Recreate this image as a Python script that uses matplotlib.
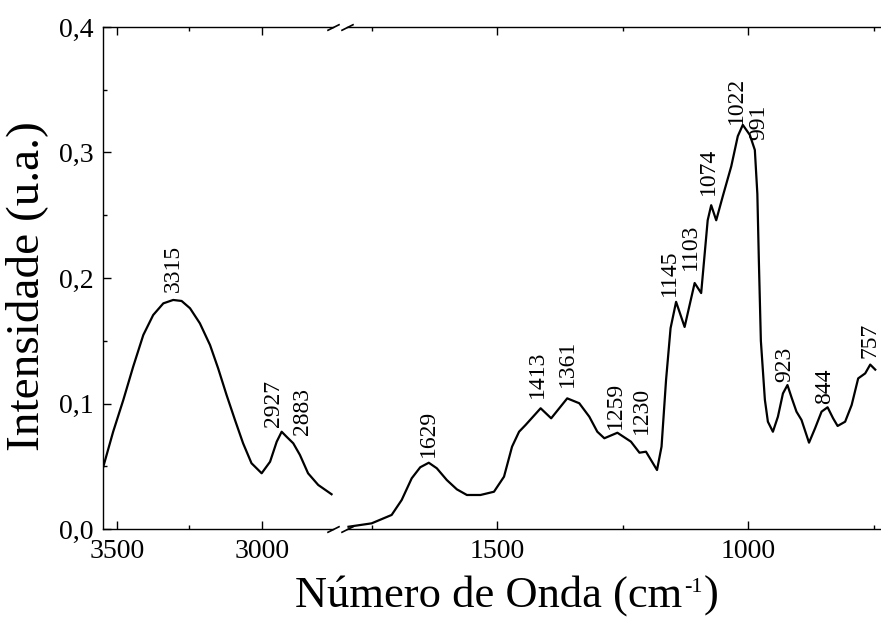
import numpy as np
import matplotlib
matplotlib.use("Agg")
from matplotlib import pyplot as plt
from matplotlib.ticker import MultipleLocator, FuncFormatter

plt.rcParams['font.family'] = 'Liberation Serif'

# high wavenumber part (cm-1, intensity)
wn_high = [3547, 3513, 3478, 3444, 3409, 3375, 3340, 3306, 3277, 3248, 3214, 3179,
           3151, 3122, 3093, 3065, 3036, 3001, 2972, 2949, 2932, 2915, 2892, 2869,
           2841, 2806, 2760]
int_high = [0.0496, 0.0775, 0.1028, 0.1293, 0.1546, 0.1705, 0.1798, 0.1825, 0.1817, 0.1759,
            0.1639, 0.1466, 0.1280, 0.1068, 0.0869, 0.0683, 0.0524, 0.0444, 0.0536, 0.0696,
            0.0775, 0.0735, 0.0683, 0.0590, 0.0444, 0.0351, 0.0277]

# fingerprint part
wn_low = [1797, 1751, 1711, 1691, 1671, 1654, 1637, 1621, 1601, 1581, 1561, 1534,
          1507, 1487, 1471, 1457, 1444, 1414, 1393, 1361, 1337, 1317, 1301, 1287,
          1261, 1234, 1217, 1204, 1182, 1173, 1164, 1155, 1144, 1127, 1107, 1094,
          1081, 1074, 1064, 1051, 1034, 1021, 1011, 997, 987, 982, 979, 975,
          967, 961, 951, 941, 931, 922, 914, 904, 894, 879, 867, 854,
          842, 831, 822, 807, 794, 781, 767, 757, 747]
int_low = [0.0018, 0.0045, 0.0112, 0.0231, 0.0404, 0.0492, 0.0528, 0.0484, 0.0390, 0.0316,
           0.0271, 0.0271, 0.0297, 0.0417, 0.0656, 0.0775, 0.0829, 0.0962, 0.0882, 0.1041,
           0.1002, 0.0895, 0.0775, 0.0723, 0.0767, 0.0696, 0.0608, 0.0616, 0.0470, 0.0656,
           0.1187, 0.1600, 0.1810, 0.1610, 0.1960, 0.1880, 0.2460, 0.2580, 0.2460, 0.2650,
           0.2890, 0.3130, 0.3220, 0.3140, 0.3020, 0.2670, 0.2140, 0.1500,
           0.1030, 0.0855, 0.0775, 0.0895, 0.1080, 0.1147, 0.1050, 0.0935, 0.0869, 0.0688,
           0.0802, 0.0935, 0.0970, 0.0882, 0.0821, 0.0855, 0.0988, 0.1200, 0.1240, 0.1310,
           0.1270]

# peak labels
peak_labels = ["3315", "2927", "2883", "1629", "1413", "1361", "1259", "1230",
               "1145", "1103", "1074", "1022", "991", "923", "844", "757"]
label_x = [3307, 2959, 2859, 1638, 1420, 1360, 1264, 1214,
           1158, 1116, 1080, 1024, 980, 928, 848, 758]
label_y = [0.189, 0.081, 0.075, 0.057, 0.104, 0.113, 0.080, 0.076,
           0.186, 0.206, 0.266, 0.323, 0.310, 0.117, 0.100, 0.136]

W, H = 881, 619
fig = plt.figure(figsize=(W / 100, H / 100), dpi=100)
bot = 1 - 529 / H
top = 1 - 27 / H
ax1 = fig.add_axes([103 / W, bot, (333 - 103) / W, top - bot])
ax2 = fig.add_axes([347 / W, bot, (W - 347) / W + 0.002, top - bot])

ax1.plot(wn_high, int_high, color='k', lw=1.6)
ax2.plot(wn_low, int_low, color='k', lw=1.6)

ax1.set_xlim(3548, 2755)
ax2.set_xlim(1800, 732)
for ax in (ax1, ax2):
    ax.set_ylim(0, 0.4)
    ax.xaxis.set_major_locator(MultipleLocator(500))
    ax.xaxis.set_minor_locator(MultipleLocator(250))
    ax.tick_params(which='both', direction='in', top=True, width=1, labelsize=20, pad=7)
    ax.tick_params(which='major', length=6)
    ax.tick_params(which='minor', length=3)
    for s in ax.spines.values():
        s.set_linewidth(1)

ax1.spines['right'].set_visible(False)
ax2.spines['left'].set_visible(False)
ax2.spines['right'].set_visible(False)
ax1.yaxis.set_major_locator(MultipleLocator(0.1))
ax1.yaxis.set_minor_locator(MultipleLocator(0.05))
ax1.yaxis.set_major_formatter(FuncFormatter(lambda v, p: ("%.1f" % v).replace(".", ",")))
ax2.tick_params(axis='y', which='both', left=False, labelleft=False)

# break marks
mk = dict(marker=[(-1, -0.5), (1, 0.5)], markersize=9, linestyle='none',
          color='k', mec='k', mew=1.2, clip_on=False)
ax1.plot([1, 1], [0, 1], transform=ax1.transAxes, **mk)
ax2.plot([0, 0], [0, 1], transform=ax2.transAxes, **mk)

for txt, x, y in zip(peak_labels, label_x, label_y):
    ax = ax1 if x > 2000 else ax2
    ax.text(x, y, txt, rotation=90, ha='center', va='bottom', fontsize=17)

# x label built from pieces so the superscript keeps a plain hyphen
r = fig.canvas.get_renderer()
yb = 1 - 607 / H
t1 = fig.text(295 / W, yb, u"Número de Onda (cm", ha='left', va='baseline', fontsize=32)
x1 = t1.get_window_extent(r).x1
t2 = fig.text((x1 + 2) / W, yb + 15 / H, "-1", ha='left', va='baseline', fontsize=16)
x2 = t2.get_window_extent(r).x1
fig.text((x2 + 1) / W, yb, ")", ha='left', va='baseline', fontsize=32)

fig.text(27 / W, 1 - 286 / H, "Intensidade (u.a.)", rotation=90,
         ha='center', va='center', fontsize=34)

fig.savefig("out.png", dpi=100)
